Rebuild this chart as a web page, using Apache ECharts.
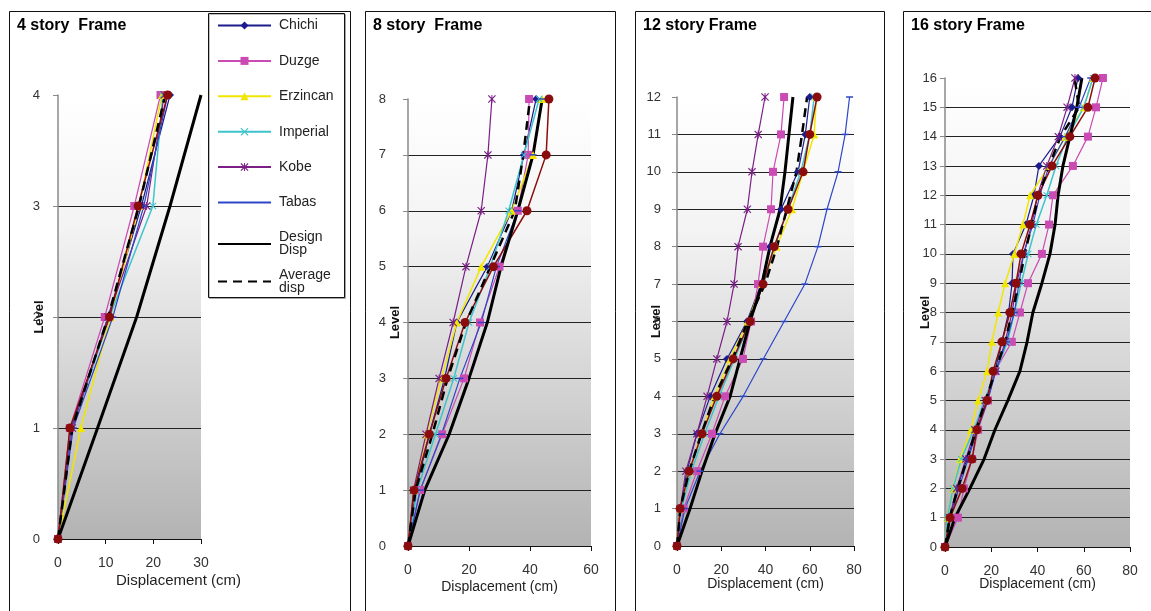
<!DOCTYPE html>
<html lang="en">
<head>
    <meta charset="UTF-8" />
    <title>Storey displacement</title>
    <script src="https://cdn.jsdelivr.net/npm/echarts@6/dist/echarts.min.js"></script>
</head>
<body style="margin:0;background:#fff">
    <div style="width: 1151px; height: 611px" id="chart"></div>
    <script>
        const myChart = echarts.init(document.getElementById("chart"));

        // panels
        const panelTitles = ["4 story  Frame", "8 story  Frame", "12 story Frame", "16 story Frame"];
        const storeys = [4, 8, 12, 16];
        const xMax = [30, 60, 80, 80];
        const xStep = [10, 20, 20, 20];
        const seriesNames = ["Chichi", "Duzge", "Erzincan", "Imperial", "Kobe", "Tabas", "Design Disp", "Average disp"];

        // 4 story (displacement in cm at level 0..4)
        const chichi4 = [0, 2.8, 10.5, 17.5, 23.5];
        const duzge4 = [0, 2.5, 9.8, 16, 21.5];
        const erzincan4 = [0, 4.8, 11, 17, 21.8];
        const imperial4 = [0, 3, 10.8, 19.9, 22];
        const kobe4 = [0, 3, 10.5, 18.6, 22.3];
        const tabas4 = [0, 3.2, 11.5, 18, 23];
        const design4 = [0, 8.3, 16.5, 23.5, 30];
        const average4 = [0, 3, 10.5, 17, 22.5];
        const other4 = [0, 2.5, 10.8, 16.8, 23];

        // 8 story
        const chichi8 = [0, 2.5, 7, 12, 16, 26, 34, 38, 42];
        const duzge8 = [0, 4, 11.2, 18.4, 23.6, 30, 36, 39.4, 39.7];
        const erzincan8 = [0, 2, 6, 11, 16, 24, 34, 41, 44];
        const imperial8 = [0, 3, 9, 15, 20, 27, 33, 38, 43];
        const kobe8 = [0, 1.8, 5.9, 10.2, 14.8, 19, 24, 26.2, 27.5];
        const tabas8 = [0, 4, 11, 17, 24, 29, 36, 41, 44];
        const design8 = [0, 5.5, 13.5, 20, 26, 30.5, 36, 41, 44];
        const average8 = [0, 2.5, 8, 13, 19, 27, 35, 37.8, 40];
        const other8 = [0, 2, 7, 12.5, 18.7, 28, 39, 45.3, 46.2];

        // 12 story
        const chichi12 = [0, 1.5, 4.5, 9, 15, 22.6, 31.6, 38, 42, 47, 54.7, 58, 60];
        const duzge12 = [0, 3, 9, 15.8, 21.7, 29.8, 33.5, 36.6, 38.9, 42.5, 43.4, 47, 48.4];
        const erzincan12 = [0, 1.5, 5.5, 11, 17, 24, 32, 38.5, 45, 52, 57, 62, 63];
        const imperial12 = [0, 2, 6.5, 12.5, 19, 26, 33, 39, 44, 50, 56, 60, 62];
        const kobe12 = [0, 1.5, 4, 9, 13.6, 18, 22.6, 25.8, 27.6, 31.8, 33.9, 36.7, 39.8];
        const tabas12 = [0, 3.6, 10.4, 19.4, 29.9, 39, 48.4, 57.8, 63.7, 67.8, 72.8, 76, 78];
        const design12 = [0, 5.9, 11.3, 17.2, 24, 28.5, 33, 38.4, 42, 46.6, 48.8, 50.6, 52.4];
        const average12 = [0, 1.5, 5.5, 11, 17, 25, 32, 39.8, 45.2, 49.6, 54, 56.5, 58.8];
        const other12 = [0, 1.4, 5.5, 11.3, 18, 25.4, 33, 38.9, 43.9, 50.2, 57, 60, 63.3];

        // 16 story
        const chichi16 = [0, 2.2, 5.2, 9.5, 13.8, 18.2, 21.6, 24.6, 27.5, 29, 29.4, 35, 38.5, 40.6, 49.7, 54.9, 57.5];
        const duzge16 = [0, 5.6, 8.2, 11.7, 14.3, 18.6, 21.6, 28.9, 32.4, 35.9, 41.9, 45, 46.7, 55.3, 61.8, 65.3, 68.3];
        const erzincan16 = [0, 1, 3.5, 6.5, 11.2, 14.3, 18.2, 20.3, 23, 26, 30, 33.7, 36.8, 45, 52, 60, 64];
        const imperial16 = [0, 1, 3.5, 7, 12.5, 17, 22, 27, 30, 33, 36, 39.5, 44, 48, 53, 60, 64];
        const kobe16 = [0, 2, 5, 9, 13, 17.5, 22, 26, 29, 31, 34, 37.5, 40, 44, 49, 52.8, 56.2];
        const tabas16 = [0, 2.5, 6, 10, 14, 18.5, 22, 26.5, 30, 32, 34, 38, 41, 45, 52, 58, 63];
        const design16 = [0, 4.3, 10.8, 16.9, 21.6, 27.2, 32.4, 35.5, 38, 41.9, 45.4, 47.6, 48.9, 51, 54, 57, 59.2];
        const average16 = [0, 2, 5.5, 9.5, 13.5, 17.5, 21.8, 26, 29, 32, 34.5, 37.5, 40.5, 45, 50, 58, 56];
        const other16 = [0, 2.2, 7.4, 11.7, 13.8, 18.2, 20.8, 24.6, 28.1, 30.7, 32.9, 36.8, 40.2, 46.3, 54, 61.8, 64.9];

        const panelData = [
            [chichi4, duzge4, erzincan4, imperial4, kobe4, tabas4, design4, average4, other4],
            [chichi8, duzge8, erzincan8, imperial8, kobe8, tabas8, design8, average8, other8],
            [chichi12, duzge12, erzincan12, imperial12, kobe12, tabas12, design12, average12, other12],
            [chichi16, duzge16, erzincan16, imperial16, kobe16, tabas16, design16, average16, other16],
        ];

        // layout of each panel
        const grids = [
            { left: 58, top: 95, width: 143, height: 444 },
            { left: 408, top: 99, width: 183, height: 447 },
            { left: 677, top: 97, width: 177, height: 449 },
            { left: 945, top: 78, width: 185, height: 469 },
        ];
        const boxes = [[9, 341], [365, 250], [635, 249], [903, 260]];
        const titlePos = [17, 373, 643, 911];
        const yLabelMargin = [18, 22, 16, 8];
        const yNameGap = [12, 6, 14, 13];
        const xNameGap = [34, 34, 31, 30];
        const xNameShift = [98, 0, 0, 0];

        const FONT = "'Liberation Sans', Arial, sans-serif";
        const xSym = "path://M0,1L1,0L5,4L9,0L10,1L6,5L10,9L9,10L5,6L1,10L0,9L4,5Z";
        const starSym = "path://M0,1L1,0L5,4L9,0L10,1L6,5L10,9L9,10L5,6L1,10L0,9L4,5ZM4.4,0L5.6,0L5.6,10L4.4,10Z";

        // style per series: Chichi, Duzge, Erzincan, Imperial, Kobe, Tabas, Design, Average, unlisted
        const styles = [
            { color: "#1c1c8c", symbol: "diamond", symbolSize: 8, width: 1.2 },
            { color: "#c94bb3", symbol: "rect", symbolSize: 8, width: 1.2 },
            { color: "#f2e600", symbol: "triangle", symbolSize: 8, width: 1.5 },
            { color: "#3cc4cc", symbol: xSym, symbolSize: 7, width: 1.5 },
            { color: "#7b1f86", symbol: starSym, symbolSize: 8, width: 1.2 },
            { color: "#2d46c8", symbol: "rect", symbolSize: [7, 1.5], width: 1.2 },
            { color: "#000000", symbol: "none", width: 3 },
            { color: "#000000", symbol: "none", width: 2.5, type: [9, 6] },
            { color: "#8b0c0c", symbol: "circle", symbolSize: 9, width: 1.5 },
        ];
        const drawOrder = [0, 1, 2, 3, 4, 5, 8, 7, 6];

        const bg = new echarts.graphic.LinearGradient(0, 0, 0, 1, [
            { offset: 0, color: "#ffffff" },
            { offset: 0.3, color: "#f3f3f3" },
            { offset: 1, color: "#b3b3b3" },
        ]);

        const series = [];
        panelData.forEach((list, p) => {
            drawOrder.forEach((k) => {
                const s = styles[k];
                series.push({
                    name: k < 8 ? seriesNames[k] : "Series 9",
                    type: "line",
                    xAxisIndex: p,
                    yAxisIndex: p,
                    data: list[k].map((v, lvl) => [v, lvl]),
                    symbol: s.symbol,
                    symbolSize: s.symbolSize,
                    showSymbol: s.symbol !== "none",
                    color: s.color,
                    lineStyle: { color: s.color, width: s.width, type: s.type || "solid" },
                    itemStyle: { color: s.color },
                    emphasis: { disabled: true },
                });
            });
        });

        const graphics = boxes.map((b) => ({
            type: "rect",
            shape: { x: b[0] + 0.5, y: 11.5, width: b[1], height: 640 },
            style: { fill: "none", stroke: "#111", lineWidth: 1 },
            silent: true,
            z: 0,
        }));
        graphics.push({
            type: "rect",
            shape: { x: 208.5, y: 13.5, width: 136, height: 284 },
            style: { fill: "#fff", stroke: "#111", lineWidth: 1, shadowColor: "rgba(0,0,0,0.25)", shadowOffsetX: 1, shadowOffsetY: 1 },
            silent: true,
            z: 1,
        });

        const legendBase = {
            orient: "vertical",
            left: 217,
            padding: 0,
            itemWidth: 53,
            itemHeight: 10,
            z: 5,
            selectedMode: false,
            textStyle: { fontSize: 14, color: "#222", lineHeight: 13, fontFamily: FONT, padding: [0, 0, 0, 3] },
        };
        const noMark = { opacity: 0 };

        option = {
            animation: false,
            textStyle: { fontFamily: FONT },
            title: panelTitles.map((t, p) => ({
                text: t,
                left: titlePos[p],
                top: 18,
                padding: 0,
                textStyle: { fontSize: 16, fontWeight: "bold", color: "#000", fontFamily: FONT },
            })),
            legend: [
                Object.assign({}, legendBase, {
                    top: 18.5,
                    itemGap: 21.4,
                    data: seriesNames.slice(0, 5).concat([{ name: "Tabas", itemStyle: noMark }]),
                }),
                Object.assign({}, legendBase, {
                    top: 230.5,
                    itemGap: 10.5,
                    data: [
                        { name: "Design Disp", itemStyle: noMark },
                        { name: "Average disp", itemStyle: noMark },
                    ],
                    formatter: (name) => name.replace(" ", "\n"),
                }),
            ],
            graphic: graphics,
            grid: grids.map((g) => ({
                left: g.left,
                top: g.top,
                width: g.width,
                height: g.height,
                show: true,
                borderWidth: 0,
                backgroundColor: bg,
            })),
            xAxis: storeys.map((n, p) => ({
                type: "value",
                gridIndex: p,
                min: 0,
                max: xMax[p],
                interval: xStep[p],
                name: "Displacement (cm)",
                nameLocation: "middle",
                nameGap: xNameGap[p],
                nameMoveOverlap: false,
                nameTextStyle: { fontSize: p === 0 ? 15 : 14, color: "#222", padding: [0, 0, 0, xNameShift[p]] },
                axisLine: { show: true, lineStyle: { color: "#111", width: 1 } },
                axisTick: { show: true, length: 5, lineStyle: { color: "#111" } },
                axisLabel: { fontSize: 14, color: "#333", margin: 17 },
                splitLine: { show: false },
            })),
            yAxis: storeys.map((n, p) => ({
                type: "value",
                gridIndex: p,
                min: 0,
                max: n,
                interval: 1,
                name: "Level",
                nameLocation: "middle",
                nameGap: yNameGap[p],
                nameMoveOverlap: false,
                nameTextStyle: { fontSize: 13, fontWeight: "bold", color: "#111" },
                axisLine: { show: true, lineStyle: { color: "#8a8a8a", width: 1.5 } },
                axisTick: { show: true, length: 5, lineStyle: { color: "#8a8a8a" } },
                axisLabel: { fontSize: 13, color: "#333", margin: yLabelMargin[p] },
                splitLine: {
                    show: true,
                    lineStyle: {
                        color: Array.from({ length: n + 1 }, (_, i) => (i === n ? "rgba(0,0,0,0)" : "#222")),
                        width: 1,
                    },
                },
            })),
            series: series,
        };

        myChart.setOption(option);
    </script>
</body>
</html>
